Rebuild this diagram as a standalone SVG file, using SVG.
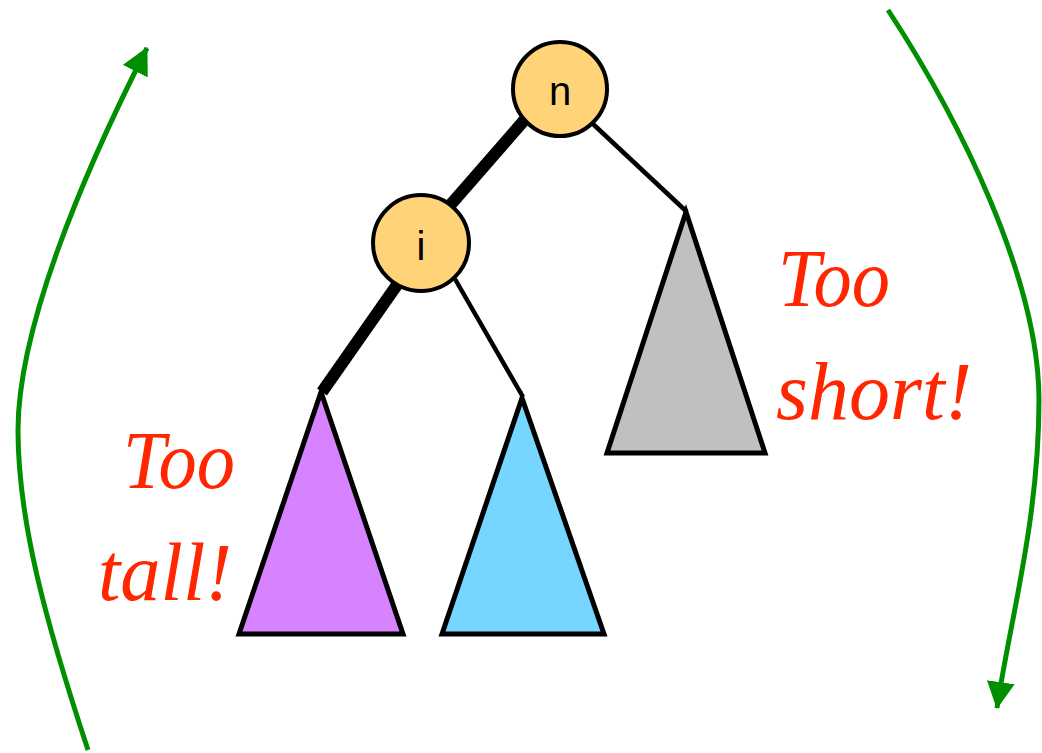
<svg xmlns="http://www.w3.org/2000/svg" width="1042" height="753" viewBox="0 0 1042 753">
<defs>
<marker id="ah" viewBox="0 0 27 28" refX="26" refY="14" markerWidth="27" markerHeight="28" markerUnits="userSpaceOnUse" orient="auto">
<path d="M0,0 L27,14 L0,28 Z" fill="#008f00"/>
</marker>
<style>
.node{fill:#ffd479;stroke:#000;stroke-width:4}
.lbl{font-family:"Liberation Sans",Arial,sans-serif;font-size:40px;fill:#000;text-anchor:middle}
.tri{stroke:#000;stroke-width:5;stroke-linejoin:miter}
.thin{stroke:#000;stroke-width:4.5;fill:none}
.thick{stroke:#000;stroke-width:12;fill:none}
.arr{stroke:#008f00;stroke-width:5;fill:none;marker-end:url(#ah)}
.note{font-family:"Liberation Serif","Times New Roman",serif;font-style:italic;font-size:82px;fill:#ff2600}
</style>
</defs>
<g id="connectors">
<line class="thick" x1="527" y1="117" x2="446" y2="210"/>
<line class="thick" x1="399" y1="282" x2="322" y2="392"/>
<line class="thin" x1="593" y1="124" x2="687" y2="212"/>
<line class="thin" x1="455" y1="279" x2="523" y2="397"/>
<path class="arr" d="M88,750 C45,620 18,520 18,430 C18,330 80,180 147,48"/>
<path class="arr" d="M888,10 C960,120 1039,280 1039,400 C1039,520 1010,620 997,708"/>
</g>
<g id="tri-left">
<polygon class="tri" fill="#d783ff" points="321,392 403,634 239,634"/>
</g>
<g id="tri-mid">
<polygon class="tri" fill="#76d6ff" points="522,398 604,634 442,634"/>
</g>
<g id="tri-right">
<polygon class="tri" fill="#c0c0c0" points="686,212 765,453 607,453"/>
</g>
<g id="node-n">
<circle class="node" cx="560" cy="89" r="47"/>
<text class="lbl" x="560" y="105">n</text>
</g>
<g id="node-i">
<circle class="node" cx="421" cy="243" r="48"/>
<text class="lbl" x="421" y="260">i</text>
</g>
<g id="label-tall">
<text class="note" x="123" y="488" textLength="112" lengthAdjust="spacingAndGlyphs">Too</text>
<text class="note" x="98" y="600" textLength="134" lengthAdjust="spacingAndGlyphs">tall!</text>
</g>
<g id="label-short">
<text class="note" x="778" y="306" textLength="112" lengthAdjust="spacingAndGlyphs">Too</text>
<text class="note" x="776" y="419" textLength="196" lengthAdjust="spacingAndGlyphs">short!</text>
</g>
</svg>
